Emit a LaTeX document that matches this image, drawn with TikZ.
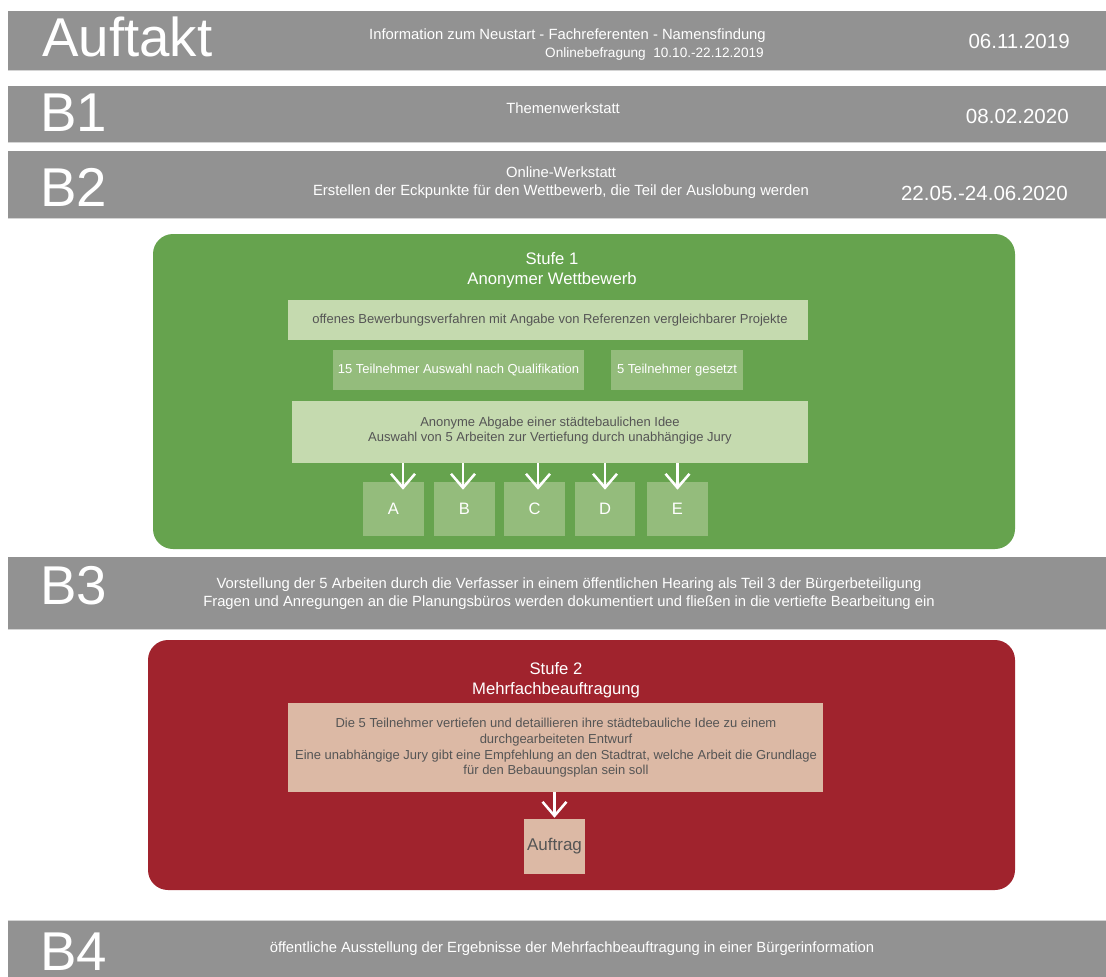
\documentclass[tikz,border=0pt]{standalone}
\usepackage{fontspec}
\setmainfont{Liberation Sans}
\usetikzlibrary{arrows.meta,fit,calc}
\definecolor{bargray}{RGB}{146,146,146}
\definecolor{barline}{RGB}{212,212,212}
\definecolor{stgreen}{RGB}{102,163,78}
\definecolor{ltgreen}{RGB}{197,218,175}
\definecolor{mdgreen}{RGB}{148,188,124}
\definecolor{stred}{RGB}{160,35,45}
\definecolor{ltpink}{RGB}{220,185,165}
\definecolor{darktext}{RGB}{85,85,85}
\tikzset{
  bar/.style={fill=bargray, inner sep=0pt},
  barrule/.style={draw=barline, line width=1pt},
  big/.style={font=\fontsize{41}{41}\selectfont, text=white, inner sep=0pt, anchor=base west},
  datetext/.style={font=\fontsize{15.4}{18}\selectfont, text=white, inner sep=0pt, anchor=base east},
  bartext/.style={font=\fontsize{11.1}{13.5}\selectfont, text=white, inner sep=0pt, align=center},
  stage/.style={rounded corners=15pt, inner sep=0pt},
  stagetitle/.style={font=\fontsize{12.5}{15}\selectfont, text=white, align=center, inner sep=0pt},
  panel/.style={inner sep=0pt},
  darkt/.style={inner sep=0pt, align=center, text=darktext, font=\fontsize{9.75}{11.4}\selectfont},
  whitet/.style={inner sep=0pt, text=white, font=\fontsize{9.75}{11.4}\selectfont},
  lettert/.style={inner sep=0pt, text=white, font=\fontsize{12.4}{14}\selectfont},
  arr/.style={white, line width=1.9pt, -{Straight Barb[length=10.5pt,width=18pt]}},
}
\begin{document}
\begin{tikzpicture}[x=0.75pt,y=-0.75pt]
\useasboundingbox (0,0) rectangle (1106,976);
\fill[white] (0,0) rectangle (1106,976);

% Auftakt
\node[bar, fit={(8,11) (1110,70)}] (auftaktbar) {};
\draw[barrule] (auftaktbar.south west) -- (auftaktbar.south east);
\node[big] (auftakt) at (42,56) {Auftakt};
\node[bartext, anchor=base east] (auftakttext) at (766,39)
  {Information zum Neustart - Fachreferenten - Namensfindung};
\node[bartext, anchor=base east, font=\fontsize{10.2}{12}\selectfont] (auftakttexttwo) at (764,57)
  {Onlinebefragung\ \ 10.10.-22.12.2019};
\node[datetext] (auftaktdate) at (1070,48) {06.11.2019};

% B1
\node[bar, fit={(8,86) (1110,142)}] (bonebar) {};
\draw[barrule] (bonebar.south west) -- (bonebar.south east);
\node[big] (bone) at (40,131) {B1};
\node[bartext, anchor=base] (bonetext) at (563,113) {Themenwerkstatt};
\node[datetext] (bonedate) at (1069,123) {08.02.2020};

% B2
\node[bar, fit={(8,151) (1110,218)}] (btwobar) {};
\draw[barrule] (btwobar.south west) -- (btwobar.south east);
\node[big] (btwo) at (40,206) {B2};
\node[bartext] (btwotext) at (561,183)
  {Online-Werkstatt\\Erstellen der Eckpunkte f\"ur den Wettbewerb, die Teil der Auslobung werden};
\node[datetext] (btwodate) at (1068,200) {22.05.-24.06.2020};

% Stufe 1
\node[stage, fill=stgreen, fit={(153,234) (1015,549)}] (stufeone) {};
\node[stagetitle] (stufeonetitle) at (552,270) {Stufe 1\\Anonymer Wettbewerb};
\node[panel, fill=ltgreen, fit={(288,300) (808,340)}] (offen) {};
\node[darkt] (offentext) at (550,320)
  {offenes Bewerbungsverfahren mit Angabe von Referenzen vergleichbarer Projekte};
\node[panel, fill=mdgreen, fit={(333,350) (584,390)}] (quali) {};
\node[whitet] (qualitext) at (quali.center) {15 Teilnehmer Auswahl nach Qualifikation};
\node[panel, fill=mdgreen, fit={(611,350) (743,390)}] (gesetzt) {};
\node[whitet] (gesetzttext) at (gesetzt.center) {5 Teilnehmer gesetzt};
\node[panel, fill=ltgreen, fit={(292,401) (808,463)}] (jury) {};
\node[darkt] (jurytext) at (550,431)
  {Anonyme Abgabe einer st\"adtebaulichen Idee\\Auswahl von 5 Arbeiten zur Vertiefung durch unabh\"angige Jury};

\node[panel, fill=mdgreen, fit={(363,482) (424,536)}] (A) {};
\node[panel, fill=mdgreen, fit={(434,482) (495,536)}] (B) {};
\node[panel, fill=mdgreen, fit={(504,482) (565,536)}] (C) {};
\node[panel, fill=mdgreen, fit={(575,482) (635,536)}] (D) {};
\node[panel, fill=mdgreen, fit={(647,482) (708,536)}] (E) {};
\node[lettert] (Atext) at ($(A.center)+(0,0)$) {A};
\node[lettert] (Btext) at (B.center) {B};
\node[lettert] (Ctext) at (C.center) {C};
\node[lettert] (Dtext) at (D.center) {D};
\node[lettert] (Etext) at (E.center) {E};

\draw[arr] ($(A.north |- jury.south)+(9.5,0)$) -- ($(A.north)+(9.5,8)$);
\draw[arr] ($(B.north |- jury.south)+(-1.5,0)$) -- ($(B.north)+(-1.5,8)$);
\draw[arr] ($(C.north |- jury.south)+(3.5,0)$) -- ($(C.north)+(3.5,8)$);
\draw[arr] (D.north |- jury.south) -- ($(D.north)+(0,8)$);
\draw[arr] (E.north |- jury.south) -- ($(E.north)+(0,8)$);

% B3
\node[bar, fit={(8,557) (1110,629)}] (bthreebar) {};
\draw[barrule] (bthreebar.south west) -- (bthreebar.south east);
\node[big] (bthree) at (40,604) {B3};
\node[bartext] (bthreetext) at (569,594)
  {Vorstellung der 5 Arbeiten durch die Verfasser in einem \"offentlichen Hearing als Teil 3 der B\"urgerbeteiligung\\
   Fragen und Anregungen an die Planungsb\"uros werden dokumentiert und flie\ss en in die vertiefte Bearbeitung ein};

% Stufe 2
\node[stage, fill=stred, fit={(148,640) (1015,890)}] (stufetwo) {};
\node[stagetitle] (stufetwotitle) at (556,680) {Stufe 2\\Mehrfachbeauftragung};
\node[panel, fill=ltpink, fit={(288,703) (823,792)}] (vertiefen) {};
\node[darkt, font=\fontsize{9.75}{11.8}\selectfont] (vertiefentext) at (556,748)
  {Die 5 Teilnehmer vertiefen und detaillieren ihre st\"adtebauliche Idee zu einem\\
   durchgearbeiteten Entwurf\\
   Eine unabh\"angige Jury gibt eine Empfehlung an den Stadtrat, welche Arbeit die Grundlage\\
   f\"ur den Bebauungsplan sein soll};
\node[panel, fill=ltpink, fit={(524,819) (585,874)}] (auftrag) {};
\node[darkt, font=\fontsize{12.75}{14}\selectfont] (auftragtext) at (auftrag.center) {Auftrag};
\draw[arr] (vertiefen.south -| auftrag.north) -- ($(auftrag.north)+(0,-1)$);

% B4
\node[bar, fit={(8,921) (1110,980)}] (bfourbar) {};
\draw[barrule] (bfourbar.north west) -- (bfourbar.north east);
\node[big] (bfour) at (40,970) {B4};
\node[bartext, anchor=base] (bfourtext) at (572,952)
  {\"offentliche Ausstellung der Ergebnisse der Mehrfachbeauftragung in einer B\"urgerinformation};
\end{tikzpicture}
\end{document}
